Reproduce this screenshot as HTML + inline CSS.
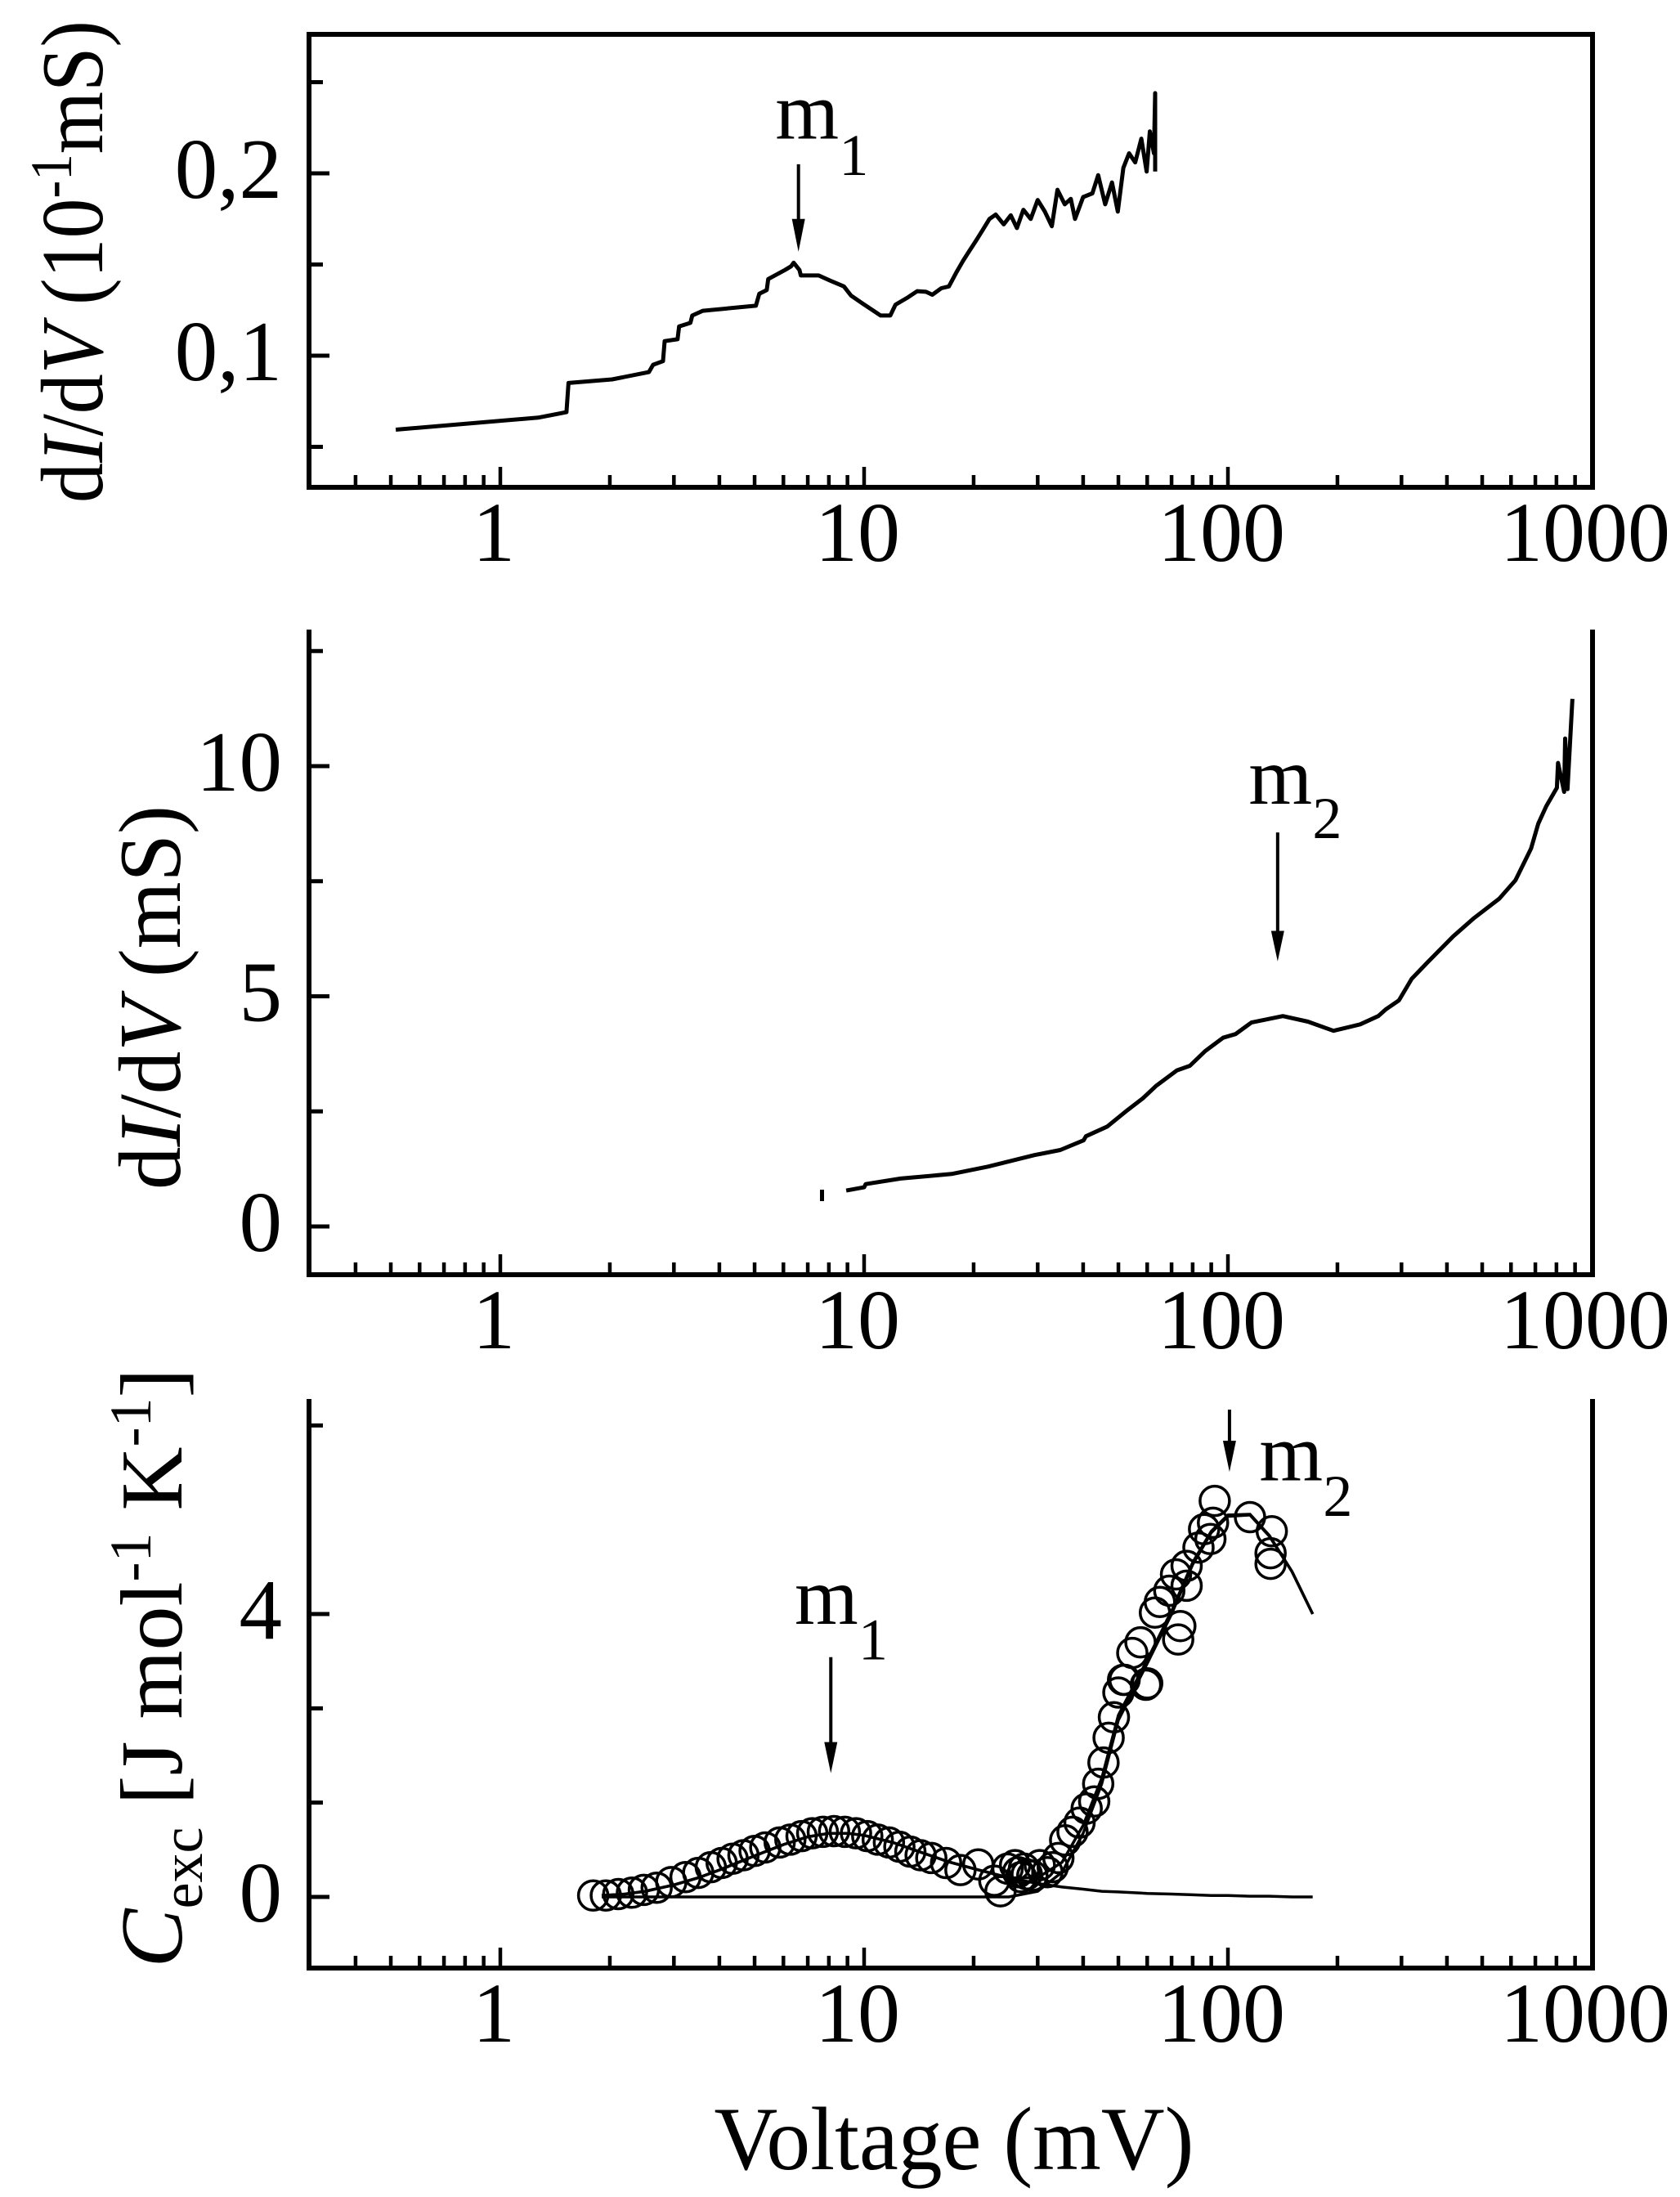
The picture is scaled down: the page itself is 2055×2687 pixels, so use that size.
<!DOCTYPE html>
<html><head><meta charset="utf-8"><style>
html,body{margin:0;padding:0;background:#fff;}
svg{display:block;font-family:"Liberation Serif","DejaVu Serif",serif;}
</style></head><body>
<svg id="fig" xmlns="http://www.w3.org/2000/svg" width="2055" height="2687" viewBox="0 0 2055 2687">
<rect x="0" y="0" width="2055" height="2687" fill="#fff"/>
</svg>
<script>
// ---------- data ----------
const xTickLabels = ["1","10","100","1000"];
const xTickValues = [1,10,100,1000];
const topYTickValues = [0.1,0.2];
const topYTickLabels = ["0,1","0,2"];
const midYTickValues = [0,5,10];
const midYTickLabels = ["0","5","10"];
const botYTickValues = [0,4];
const botYTickLabels = ["0","4"];

const topV = [0.516,1.27,1.52,1.54,2.03,2.56,2.63,2.8,2.83,3.07,3.1,3.33,3.37,3.6,5.04,5.15,5.4,5.45,6.06,6.3,6.4,6.64,6.7,7.5,8.1,8.8,9.2,9.9,11.1,11.8,12.2,13.2,14,14.8,15.4,16.3,17.1,17.9,18.7,19.4,20.3,21.2,22.1,23,24.2,25.3,26.3,27.4,28.7,30,31.4,32.8,34,35.6,37,38,40,42.4,44,46,48,49.8,51.6,53.5,55.6,57.8,59.8,61,62.6,63.1,63.1];
const topG = [0.0594,0.066,0.069,0.085,0.087,0.091,0.095,0.097,0.108,0.109,0.116,0.118,0.122,0.1246,0.1274,0.134,0.136,0.142,0.147,0.149,0.151,0.147,0.144,0.144,0.141,0.138,0.133,0.1286,0.122,0.122,0.128,0.132,0.1354,0.135,0.1334,0.137,0.138,0.1454,0.152,0.157,0.163,0.169,0.175,0.1774,0.172,0.177,0.170,0.180,0.175,0.1854,0.179,0.171,0.191,0.183,0.186,0.175,0.187,0.189,0.199,0.183,0.195,0.179,0.203,0.211,0.206,0.219,0.201,0.223,0.211,0.244,0.201];

const midV = [8.93,10.0,10.1,12.6,17.4,21.9,29.4,34.6,40.1,40.7,46.6,53,58.3,63.4,72.4,78.6,86.6,97,105,116,141.6,166,195,231,259,272,295,320,353,377,416,475,557,617,681,713,750,802,808,840,845,858,885];
const midG = [0.78,0.85,0.92,1.04,1.14,1.30,1.55,1.66,1.87,1.96,2.17,2.53,2.78,3.05,3.39,3.49,3.81,4.10,4.18,4.43,4.57,4.45,4.25,4.39,4.57,4.72,4.91,5.38,5.73,5.96,6.30,6.70,7.12,7.52,8.21,8.75,9.13,9.53,10.07,9.44,10.6,9.5,11.46];
const midStubV = [7.66,7.66];
const midStubG = [0.55,0.80];

const circV = [1.80,1.95,2.11,2.30,2.48,2.69,2.95,3.23,3.50,3.79,4.06,4.35,4.66,5.00,5.35,5.86,6.27,6.73,7.20,7.70,8.27,8.85,9.50,10.2,10.9,11.7,12.5,13.4,14.3,15.3,16.8,18.4,20.6,22.8,23.7,24.8,26,26.5,27,27.5,28,29,30.4,31.9,33,34.2,35.7,37.4,39.1,40.9,42.9,44,45.5,47,48.6,50,51.5,52,54.6,57.5,59.5,60,63,65,69,72,73,74,77,77,83,86,89.5,91,92,115,131,132,131];
const circC = [0.02,0.02,0.04,0.06,0.10,0.13,0.21,0.28,0.34,0.42,0.48,0.54,0.59,0.65,0.70,0.77,0.81,0.86,0.90,0.92,0.93,0.92,0.90,0.86,0.81,0.77,0.71,0.64,0.59,0.55,0.48,0.38,0.46,0.23,0.08,0.40,0.45,0.35,0.28,0.40,0.32,0.30,0.45,0.35,0.42,0.55,0.80,0.92,1.05,1.25,1.35,1.6,1.9,2.25,2.54,2.89,3.07,3.07,3.45,3.60,3.0,3.02,4.02,4.17,4.33,4.56,3.64,3.83,4.68,4.40,4.94,5.2,5.06,5.29,5.60,5.37,4.86,5.17,4.71];

const fitV = [1.9,2.2,2.5,3,3.5,4,5,6,7,8,9,10,12,14,17,20,25,30,35,40,45,50,60,70,80,90,100,115,130,150,171];
const fitHump = [0.02,0.04,0.08,0.17,0.27,0.38,0.58,0.74,0.85,0.90,0.90,0.87,0.77,0.65,0.50,0.40,0.27,0.19,0.14,0.11,0.08,0.07,0.05,0.04,0.03,0.02,0.02,0.01,0.01,0.0,0.0];
const fitM2 = [0,0,0,0,0,0,0,0,0,0,0,0,0,0,0,0,0,0.08,0.35,0.9,1.6,2.5,3.3,4.0,4.7,5.15,5.38,5.4,5.1,4.6,4.0];

// ---------- axes ----------
const X0 = 378, X1 = 1948;
function xs(v){ return 612 + 445*Math.log10(v); }
function yTop(v){ return 658 - 2230*v; }
function yMid(v){ return 1500 - 56.3*v; }
function yBot(v){ return 2320 - 86.5*v; }

const NS = "http://www.w3.org/2000/svg";
const svg = document.getElementById('fig');
function mk(tag, attrs, parent){
  const e = document.createElementNS(NS, tag);
  for (const k in attrs) e.setAttribute(k, attrs[k]);
  (parent||svg).appendChild(e);
  return e;
}
function line(x1,y1,x2,y2,w,parent){
  return mk('line',{x1:x1,y1:y1,x2:x2,y2:y2,stroke:'#000','stroke-width':w,'stroke-linecap':'butt'},parent);
}

function panel(name, top, bottom, yfun, yMajor, yMajorLbl, yMinor, boxTop){
  const g = mk('g',{});
  
  
  const l = line(X0, top, X0, bottom+3, 6, g);
  
  
  const r = line(X1, top, X1, bottom+3, 6, g);
  
  
  const b = line(X0-3, bottom, X1+3, bottom, 6, g);
  
  
  if (boxTop){
    const t = line(X0-3, top, X1+3, top, 6, g);
    
    
  }
  for (let d=-1; d<3; d++){
    for (let k=1; k<10; k++){
      const v = k*Math.pow(10,d);
      const x = xs(v);
      if (x < X0+5 || x > X1-2) continue;
      const tk = line(x, bottom, x, bottom-(k===1?25:15), 4.5, g);
      
      
    }
  }
  xTickValues.forEach((v,i)=>{
    const t = mk('text',{x:xs(v)-8, y:bottom+90, 'font-size':104, 'text-anchor':'middle'}, g);
    t.textContent = xTickLabels[i];
    
    
  });
  yMinor.forEach(v=>{
    const y = yfun(v);
    const tk = line(X0, y, X0+17, y, 5, g);
    
    
  });
  yMajor.forEach((v,i)=>{
    const y = yfun(v);
    const tk = line(X0, y, X0+25, y, 5, g);
    
    
    const t = mk('text',{x:345, y:y+30, 'font-size':105, 'text-anchor':'end'}, g);
    t.textContent = yMajorLbl[i];
    
    
  });
  return g;
}

panel('top-panel', 42, 596, yTop, topYTickValues, topYTickLabels, [0.05,0.15,0.25], true);
panel('middle-panel', 770, 1559, yMid, midYTickValues, midYTickLabels, [2.5,7.5,12.5], false);
panel('bottom-panel', 1711, 2407, yBot, botYTickValues, botYTickLabels, [4/3,8/3,20/3], false);

function pathFrom(vs, gs, yfun){
  return vs.map((v,i)=>(i?'L':'M')+xs(v).toFixed(1)+' '+yfun(gs[i]).toFixed(1)).join(' ');
}

const pTop = mk('path',{d:pathFrom(topV, topG, yTop), fill:'none', stroke:'#000','stroke-width':5,'stroke-linejoin':'round'});



const pMid = mk('path',{d:pathFrom(midV, midG, yMid), fill:'none', stroke:'#000','stroke-width':5,'stroke-linejoin':'round'});


const pStub = mk('path',{d:pathFrom(midStubV, midStubG, yMid), fill:'none', stroke:'#000','stroke-width':5});



circV.forEach((v,i)=>{
  const c = mk('circle',{cx:xs(v), cy:yBot(circC[i]), r:18, fill:'none', stroke:'#000','stroke-width':3.5});
  
  
});
const fitTotal = fitHump.map((h,i)=>h+fitM2[i]);
const f1 = mk('path',{d:pathFrom(fitV, fitHump, yBot), fill:'none', stroke:'#000','stroke-width':3.5});


const f2 = mk('path',{d:pathFrom(fitV, fitM2, yBot), fill:'none', stroke:'#000','stroke-width':3.5});


const f3 = mk('path',{d:pathFrom(fitV, fitTotal, yBot), fill:'none', stroke:'#000','stroke-width':3.5});



function arrow(name, v, y1, y2, yh){
  const x = xs(v);
  const g = mk('g',{});
  
  
  line(x, y1, x, yh+2, 4, g);
  mk('polygon',{points:`${x-8},${yh} ${x+8},${yh} ${x},${y2}`, fill:'#000'}, g);
}
function label(name, v, yb, sub, ysub){
  const x = xs(v);
  const t = mk('text',{x:x, y:yb, 'font-size':100});
  t.textContent = 'm';
  
  
  const s = mk('text',{x:x+78, y:ysub, 'font-size':72});
  s.textContent = sub;
  
  
}
arrow('top-m1-arrow', 6.6, yTop(0.205), yTop(0.157), yTop(0.175));
label('top-m1-label', 5.7, yTop(0.219), '1', yTop(0.199));
arrow('middle-m2-arrow', 137, yMid(8.56), yMid(5.76), yMid(6.42));
label('middle-m2-label', 114, yMid(9.18), '2', yMid(8.44));
arrow('bottom-m1-arrow', 8.1, yBot(3.39), yBot(1.75), yBot(2.19));
label('bottom-m1-label', 6.44, yBot(3.86), '1', yBot(3.36));
arrow('bottom-m2-arrow', 101, yBot(6.89), yBot(6.01), yBot(6.45));
label('bottom-m2-label', 122, yBot(5.89), '2', yBot(5.39));
</script>
<svg style="position:absolute;left:0;top:0" width="2055" height="2687" xmlns="http://www.w3.org/2000/svg" font-family="Liberation Serif, serif">
<g transform="translate(125,320) rotate(-90)">
<text x="0" y="0" font-size="108" text-anchor="middle" textLength="590" lengthAdjust="spacingAndGlyphs">d<tspan font-style="italic">I</tspan>/d<tspan font-style="italic">V</tspan> (10<tspan font-size="72" dy="-38">-1</tspan><tspan dy="38">mS)</tspan></text>
</g>
<g transform="translate(220,1220) rotate(-90)">
<text x="0" y="0" font-size="108" text-anchor="middle" textLength="470" lengthAdjust="spacingAndGlyphs">d<tspan font-style="italic">I</tspan>/d<tspan font-style="italic">V</tspan> (mS)</text>
</g>
<g transform="translate(222,2040) rotate(-90)">
<text x="0" y="0" font-size="108" text-anchor="middle"><tspan font-style="italic">C</tspan><tspan font-size="72" dy="25">exc</tspan><tspan dy="-25"> [J mol</tspan><tspan font-size="72" dy="-38">-1</tspan><tspan dy="38"> K</tspan><tspan font-size="72" dy="-38">-1</tspan><tspan dy="38">]</tspan></text>
</g>
<text x="1167" y="2653" font-size="110" text-anchor="middle" textLength="587" lengthAdjust="spacingAndGlyphs">Voltage (mV)</text>
</svg>
</body></html>
